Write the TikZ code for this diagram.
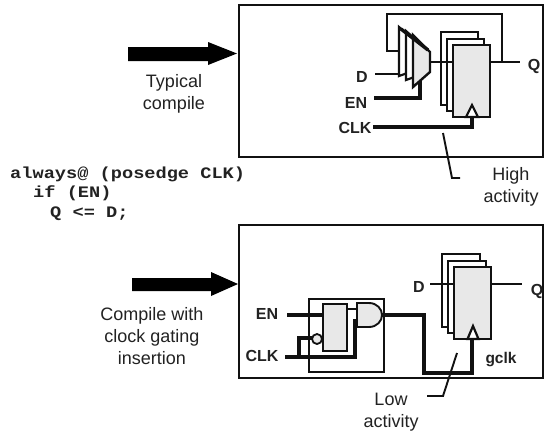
\documentclass[tikz,border=0pt]{standalone}
\usepackage{fontspec}
\setmainfont{Liberation Sans}
\newfontfamily\codefont{Liberation Mono}
\definecolor{ink}{HTML}{111111}
\definecolor{txt}{HTML}{222222}
\definecolor{cellfill}{HTML}{E8E8E8}
\tikzset{
  x=1pt,y=-1pt,
  frame/.style={draw=ink,line width=2.2pt},
  cell/.style={draw=ink,line width=2.2pt,fill=white},
  cellg/.style={draw=ink,line width=2.4pt,fill=cellfill},
  ffbox/.style={cellg,minimum width=37pt,minimum height=72pt,inner sep=0pt,outer sep=0pt},
  wire/.style={draw=ink,line width=1.5pt},
  heavy/.style={draw=ink,line width=4.4pt},
  leader/.style={draw=ink,line width=1.9pt},
  lbl/.style={font=\fontsize{18}{22}\selectfont,text=txt,align=center,inner sep=0pt},
  blbl/.style={font=\bfseries\fontsize{16}{18}\selectfont,text=txt,inner sep=0pt},
  code/.style={font=\codefont\bfseries\fontsize{16}{18}\selectfont,text=txt,inner sep=0pt,anchor=base west,xscale=1.165},
  bigarrow/.style={draw=none,fill=black},
}
\begin{document}
\begin{tikzpicture}
\useasboundingbox (0,0) rectangle (548,434);
\fill[white] (0,0) rectangle (548,434);
% frames
\draw[frame] (239,5) rectangle (543,157);
\draw[frame] (239,225) rectangle (543,378);
% big arrows
\fill[bigarrow] (128,47) -- (208,47) -- (208,42) -- (237,53.5) -- (208,65) -- (208,61) -- (128,61) -- cycle;
\fill[bigarrow] (132,278) -- (211,278) -- (211,272) -- (238,284) -- (211,296) -- (211,291) -- (132,291) -- cycle;
% top feedback and data wires
\coordinate (fbtap) at (502,62);
\coordinate (fbin) at (399,51);
\draw[wire] (fbtap) -- (502,14) -- (387,14) -- (387,51) -- (fbin);
\node[blbl] (dT) at (362,77) {D};
\node[blbl] (enT) at (356,103) {EN};
\node[blbl] (clkT) at (355,128) {CLK};
\node[blbl] (qT) at (534,66) {Q};
% muxes
\draw[cell] (399,27) -- (416,41) -- (416,70) -- (399,76) -- cycle;
\draw[cell] (406,31) -- (423,46) -- (423,74) -- (406,80) -- cycle;
\draw[cellg] (413,35) -- (430,52) -- (430,72) -- (413,87) -- cycle;
\draw[draw=ink,line width=3.4pt] (401,29) -- (428,50);
\coordinate (muxout) at (430,62);
\coordinate (muxin) at (399,74);
\coordinate (muxen) at (420,81);
\draw[wire] (375,74) -- (muxin);
\draw[heavy] (374,98) -- (420,98) -- (muxen);
% top flops
\draw[cell] (441,32) rectangle (478,105);
\draw[cell] (447,39) rectangle (484,111);
\node[ffbox] (flopT) at (471.5,81) {};
\draw[wire] (muxout) -- (flopT.west |- muxout);
\draw[wire] (flopT.east |- fbtap) -- (520,62);
\draw[heavy] (373,127) -- (472,127) -- (472,115);
\draw[cell] (466,117) -- (472,105) -- (478,117) -- cycle;
% top leader
\draw[leader] (443,133) -- (452,178) -- (460,178);
% labels
\node[lbl] (typ) at (174,94) {Typical\\compile};
\node[lbl] (high) at (511,187) {High\\activity};
\node[lbl] (cgi) at (152,336) {Compile with\\clock gating\\insertion};
\node[lbl] (low) at (391,412) {Low\\activity};
% code
\node[code] at (10,178) {always@ (posedge CLK)};
\node[code] at (33,197) {if (EN)};
\node[code] at (50,217) {Q <= D;};
% bottom gate block
\draw[draw=ink,line width=1.9pt] (309,299) rectangle (384,372);
\node[blbl] (enB) at (267,314) {EN};
\node[blbl] (clkB) at (262,356) {CLK};
\draw[heavy] (287,315) -- (323,315);
\draw[heavy] (285,357) -- (355,357) -- (355,321) -- (358,321);
\draw[heavy] (299,357) -- (299,338) -- (312,338);
\node[cellg,minimum width=24pt,minimum height=47pt,inner sep=0pt,outer sep=0pt] (latch) at (335,327.5) {};
\draw[cellg,line width=1.8pt] (317,339) circle (5);
\coordinate (andin) at (357,309);
\draw[draw=ink,line width=2.6pt] (latch.east |- andin) -- (andin);
\draw[cellg,line width=1.9pt] (357,303) -- (369,303) .. controls (377,303) and (382,309) .. (382,315) .. controls (382,321) and (377,327) .. (369,327) -- (357,327) -- cycle;
% gated clock
\draw[heavy] (382,315) -- (424,315) -- (424,373) -- (472,373) -- (472,336);
% bottom flops
\draw[cell] (442,254) rectangle (480,327);
\draw[cell] (448,261) rectangle (486,333);
\node[ffbox] (flopB) at (472.5,303) {};
\coordinate (dwire) at (430,284);
\draw[wire] (dwire) -- (flopB.west |- dwire);
\draw[wire] (flopB.east |- dwire) -- (522,284);
\draw[cell] (467.5,339) -- (473,326) -- (478.5,339) -- cycle;
\node[blbl] (dB) at (419,287) {D};
\node[blbl] (qB) at (537,291) {Q};
\node[blbl,font=\bfseries\fontsize{15.5}{17}\selectfont] (gclk) at (501,360) {gclk};
% bottom leader
\draw[leader] (457,353) -- (443,396) -- (427,396);
\end{tikzpicture}
\end{document}
